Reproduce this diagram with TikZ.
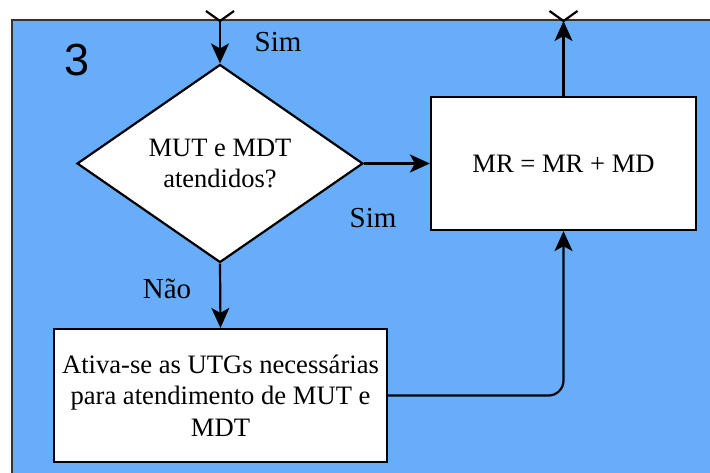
\documentclass[tikz,border=0pt]{standalone}
\usepackage{fontspec}
\setmainfont{Liberation Serif}
\newfontfamily\serifface{Liberation Serif}
\newfontfamily\digitface{Liberation Sans}
\usetikzlibrary{shapes.geometric,arrows.meta}
\definecolor{bgblue}{RGB}{103,173,250}
\begin{document}
\begin{tikzpicture}[x=1pt,y=-1pt,
  boxnode/.style={draw, fill=white, line width=2.2pt, align=center, inner sep=0pt,
    font=\serifface\fontsize{26.6}{31.5}\selectfont},
  decnode/.style={diamond, draw, fill=white, line width=2.2pt, aspect=1.444,
    minimum width=286pt, minimum height=198pt, inner sep=0pt, align=center,
    font=\serifface\fontsize{26.5}{31}\selectfont},
  conn/.style={line width=2.2pt, -{Stealth[length=20pt,width=18pt,inset=5pt]}},
  plainline/.style={line width=2.2pt},
  lbl/.style={font=\serifface\fontsize{29}{34}\selectfont, anchor=base, inner sep=0pt}]
\useasboundingbox (0,0) rectangle (710,473);
\fill[white] (0,0) rectangle (710,473);
\fill[bgblue] (12,20) rectangle (712,475);
\draw[line width=1.4pt, black!80] (12,475) -- (12,20) -- (712,20);

\node[anchor=base, inner sep=0pt, font=\digitface\fontsize{45}{50}\selectfont] (num) at (77,76) {3};

\node[decnode] (dec) at (220,163.5) {MUT e MDT\\atendidos?};
\node[boxnode, minimum width=265pt, minimum height=133pt] (mr) at (563.5,163.5) {MR = MR + MD};
\node[boxnode, minimum width=333pt, minimum height=133pt] (act) at (220.5,395.5)
  {Ativa-se as UTGs necessárias\\para atendimento de MUT e\\MDT};

\coordinate (topin) at (220,21);
\coordinate (topout) at (563.5,21);
\coordinate (xa1) at (206,11);
\coordinate (xa2) at (234,11);
\coordinate (xb1) at (549.5,11);
\coordinate (xb2) at (577.5,11);

\draw[plainline] (xa1) -- (topin) -- (xa2);
\draw[plainline] (xb1) -- (topout) -- (xb2);

\draw[conn] (topin) -- (dec.north);
\draw[conn] (dec.east) -- (mr.west);
\draw[conn] (dec.south) -- (act.north);
\draw[conn] (mr.north) -- (topout);
\draw[conn, rounded corners=15pt] (act.east) -| (mr.south);

\node[lbl] (sim1) at (278,52) {Sim};
\node[lbl] (sim2) at (373,228) {Sim};
\node[lbl] (nao) at (167,299) {Não};
\end{tikzpicture}
\end{document}
